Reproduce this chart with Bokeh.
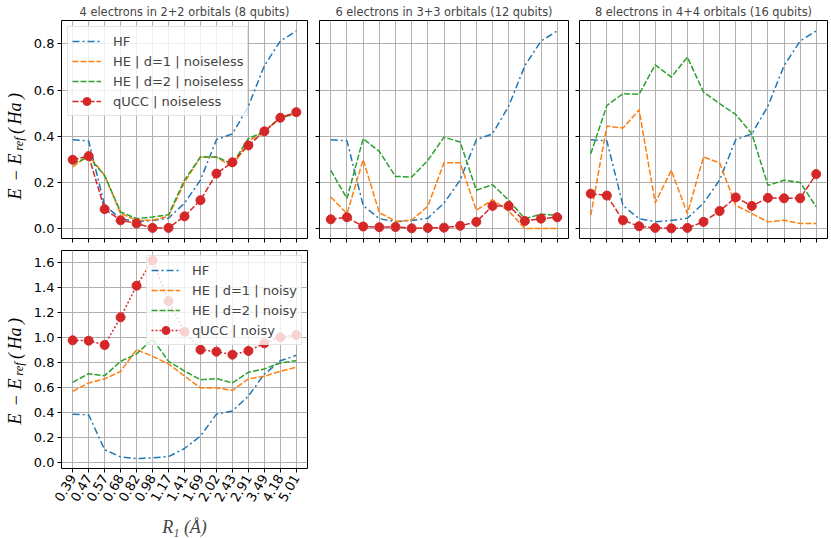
import math
from bokeh.plotting import figure
from bokeh.models import Range1d, FixedTicker, NumeralTickFormatter, CustomLabelingPolicy
from bokeh.layouts import column, row
from bokeh.core.properties import value
from bokeh.embed import file_html
from bokeh.resources import INLINE

R_LABELS = ["0.39", "0.47", "0.57", "0.68", "0.82", "0.98", "1.17", "1.41",
            "1.69", "2.02", "2.43", "2.91", "3.49", "4.18", "5.01"]

HF = [0.385, 0.38, 0.10, 0.043, 0.03, 0.035, 0.045, 0.11, 0.21, 0.385, 0.41, 0.53, 0.705, 0.812, 0.856]

HE_D1_8Q = [0.267, 0.317, 0.23, 0.065, 0.036, 0.036, 0.053, 0.20, 0.31, 0.31, 0.267, 0.38, 0.418, 0.483, 0.497]
HE_D2_8Q = [0.28, 0.31, 0.23, 0.072, 0.043, 0.05, 0.06, 0.21, 0.31, 0.31, 0.28, 0.39, 0.42, 0.48, 0.497]
QUCC_8Q = [0.298, 0.314, 0.084, 0.036, 0.022, 0.003, 0.003, 0.053, 0.123, 0.238, 0.287, 0.36, 0.421, 0.48, 0.504]

HE_D1_12Q = [0.137, 0.065, 0.298, 0.069, 0.032, 0.036, 0.097, 0.285, 0.285, 0.079, 0.125, 0.076, 0.0, 0.0, 0.0]
HE_D2_12Q = [0.252, 0.13, 0.389, 0.334, 0.226, 0.223, 0.295, 0.396, 0.375, 0.166, 0.19, 0.123, 0.043, 0.062, 0.058]
QUCC_12Q = [0.04, 0.049, 0.009, 0.006, 0.007, 0.001, 0.003, 0.004, 0.012, 0.029, 0.098, 0.098, 0.033, 0.043, 0.049]

HE_D1_16Q = [0.058, 0.444, 0.435, 0.515, 0.111, 0.252, 0.065, 0.31, 0.285, 0.101, 0.065, 0.029, 0.036, 0.022, 0.022]
HE_D2_16Q = [0.324, 0.533, 0.584, 0.581, 0.709, 0.656, 0.742, 0.591, 0.541, 0.494, 0.411, 0.187, 0.209, 0.2, 0.094]
QUCC_16Q = [0.151, 0.143, 0.036, 0.01, 0.003, 0.001, 0.003, 0.029, 0.076, 0.135, 0.098, 0.133, 0.131, 0.131, 0.236]

HE_D1_NOISY = [0.568, 0.635, 0.667, 0.728, 0.901, 0.848, 0.787, 0.69, 0.595, 0.595, 0.576, 0.667, 0.688, 0.728, 0.76]
HE_D2_NOISY = [0.64, 0.709, 0.693, 0.808, 0.867, 0.987, 0.808, 0.73, 0.661, 0.669, 0.635, 0.72, 0.747, 0.795, 0.813]
QUCC_NOISY = [0.976, 0.973, 0.939, 1.16, 1.413, 1.616, 1.29, 1.045, 0.901, 0.885, 0.861, 0.891, 0.952, 1.0, 1.019]

TITLES = ["4 electrons in 2+2 orbitals (8 qubits)",
          "6 electrons in 3+3 orbitals (12 qubits)",
          "8 electrons in 4+4 orbitals (16 qubits)"]
TOP_YTICKS = [0.0, 0.2, 0.4, 0.6, 0.8]
BOT_YTICKS = [0.0, 0.2, 0.4, 0.6, 0.8, 1.0, 1.2, 1.4, 1.6]
XLABEL = "R₁ (Å)"
YLABEL_PARTS = ["E", "−", "E", "ref", "(\u2009Ha\u2009)"]

BLUE, ORANGE, GREEN, RED = "#1f77b4", "#ff7f0e", "#2ca02c", "#d62728"
DASHDOT = "7 3 2 3"
DASHED = "6 2"
DOTTED = "2 2"

X = list(range(len(R_LABELS)))
HIDE = "for (const i of indices) indices.unset(i)"
STRIP_W = 30


def make_fig(title, fw, fh, yr, yticks, bl, br, bt, bb, show_x, show_y):
    kw = dict(frame_width=fw, frame_height=fh,
              x_range=Range1d(-0.7, len(R_LABELS) - 1 + 0.7), y_range=yr,
              output_backend="svg", toolbar_location=None,
              min_border_left=bl, min_border_right=br,
              min_border_top=bt, min_border_bottom=bb)
    if title:
        kw["title"] = title
    p = figure(**kw)
    if title:
        p.title.text_font = "DejaVu Sans"
        p.title.text_font_size = "11.4px"
        p.title.text_font_style = "normal"
        p.title.align = "center"
        p.title.standoff = 3
        p.title.offset = 0
    p.background_fill_color = "white"
    p.border_fill_color = "white"
    p.outline_line_color = "black"
    p.outline_line_width = 1
    p.grid.grid_line_color = "#b0b0b0"
    p.grid.grid_line_width = 1
    for ax in p.axis:
        ax.axis_line_color = None
        ax.major_tick_line_color = "black"
        ax.major_tick_out = 4
        ax.major_tick_in = 0
        ax.minor_tick_line_color = None
        ax.major_label_text_font = "DejaVu Sans"
        ax.major_label_text_font_size = "13px"
        ax.major_label_text_color = "black"
        ax.major_label_standoff = 3
    p.xaxis.ticker = FixedTicker(ticks=X)
    p.xaxis.major_label_overrides = {i: lab for i, lab in enumerate(R_LABELS)}
    p.yaxis.ticker = FixedTicker(ticks=yticks)
    p.yaxis.formatter = NumeralTickFormatter(format="0.0")
    if not show_x:
        p.xaxis.major_label_policy = CustomLabelingPolicy(code=HIDE)
        p.xaxis.major_label_text_font_size = "0px"
        p.xaxis.major_label_standoff = 0
    if not show_y:
        p.yaxis.major_label_policy = CustomLabelingPolicy(code=HIDE)
        p.yaxis.major_label_text_font_size = "0px"
        p.yaxis.major_label_standoff = 0
    return p


def ylabel_fig(height, y_first):
    # narrow strip holding the rotated y-axis label (E - E_ref (Ha)); parts centred
    q = figure(frame_width=STRIP_W, frame_height=height, x_range=Range1d(0, STRIP_W),
               y_range=Range1d(0, height), x_axis_location=None, y_axis_location=None,
               output_backend="svg", toolbar_location=None,
               min_border_left=0, min_border_right=0, min_border_top=0, min_border_bottom=0)
    q.outline_line_color = None
    q.grid.visible = False
    q.background_fill_color = "white"
    q.border_fill_color = "white"
    offs = [0, 18.5, 35, 50, 80.5]
    xs = [14.6, 14.6, 14.6, 18.8, 14.6]
    sizes = ["18px", "18px", "18px", "12.5px", "18px"]
    q.text(x=xs, y=[y_first + o for o in offs], text=YLABEL_PARTS, angle=math.pi / 2,
           text_font=value("Liberation Serif"), text_font_style="italic",
           text_font_size=sizes, text_color="black",
           text_baseline="middle", text_align="center")
    return q


def style_legend(p, loc):
    lg = p.legend[0]
    lg.location = loc
    lg.margin = 6
    lg.padding = 4
    lg.spacing = 0
    lg.glyph_width = 29
    lg.glyph_height = 20
    lg.label_height = 20
    lg.label_standoff = 12
    lg.label_text_font = "DejaVu Sans"
    lg.label_text_font_size = "13px"
    lg.border_line_color = "#cccccc"
    lg.border_line_width = 1
    lg.background_fill_color = "white"
    lg.background_fill_alpha = 0.8


top_range = Range1d(-0.043, 0.901)
BL = 59 - STRIP_W

p1 = make_fig(TITLES[0], 246, 218, top_range, TOP_YTICKS, BL, 6, 20, 6, False, True)
p2 = make_fig(TITLES[1], 249, 218, top_range, TOP_YTICKS, 6, 5, 20, 6, False, False)
p3 = make_fig(TITLES[2], 248, 218, top_range, TOP_YTICKS, 6, 4, 20, 6, False, False)
p4 = make_fig(None, 246, 218, Range1d(-0.05, 1.695), BOT_YTICKS, BL, 6, 6, 60, True, True)

panels = [
    (p1, HE_D1_8Q, HE_D2_8Q, QUCC_8Q, True),
    (p2, HE_D1_12Q, HE_D2_12Q, QUCC_12Q, False),
    (p3, HE_D1_16Q, HE_D2_16Q, QUCC_16Q, False),
]
for p, he1, he2, qu, leg in panels:
    def L(name):
        return dict(legend_label=name) if leg else {}
    p.line(X, HF, line_color=BLUE, line_width=1.5, line_dash=DASHDOT, **L("HF"))
    p.line(X, he1, line_color=ORANGE, line_width=1.5, line_dash=DASHED, **L("HE | d=1 | noiseless"))
    p.line(X, he2, line_color=GREEN, line_width=1.5, line_dash=DASHED, **L("HE | d=2 | noiseless"))
    p.line(X, qu, line_color=RED, line_width=1.5, line_dash=DASHED, **L("qUCC | noiseless"))
    p.scatter(X, qu, size=9, fill_color=RED, line_color=RED, **L("qUCC | noiseless"))

style_legend(p1, "top_left")

p4.line(X, HF, line_color=BLUE, line_width=1.5, line_dash=DASHDOT, legend_label="HF")
p4.line(X, HE_D1_NOISY, line_color=ORANGE, line_width=1.5, line_dash=DASHED, legend_label="HE | d=1 | noisy")
p4.line(X, HE_D2_NOISY, line_color=GREEN, line_width=1.5, line_dash=DASHED, legend_label="HE | d=2 | noisy")
p4.line(X, QUCC_NOISY, line_color=RED, line_width=1.5, line_dash=DOTTED, legend_label="qUCC | noisy")
p4.scatter(X, QUCC_NOISY, size=9, fill_color=RED, line_color=RED, legend_label="qUCC | noisy")
style_legend(p4, "top_right")
p4.legend[0].margin = 5

p4.xaxis.major_label_orientation = math.pi / 3
p4.xaxis.axis_label = XLABEL
p4.xaxis.axis_label_text_font = "Liberation Serif"
p4.xaxis.axis_label_text_font_style = "italic"
p4.xaxis.axis_label_text_font_size = "18px"
p4.xaxis.axis_label_standoff = 9

q1 = ylabel_fig(244, 70.5)
q4 = ylabel_fig(290, 121.5)

layout = column(row(q1, p1, p2, p3), row(q4, p4))
open("out.html", "w").write(file_html(layout, INLINE))
